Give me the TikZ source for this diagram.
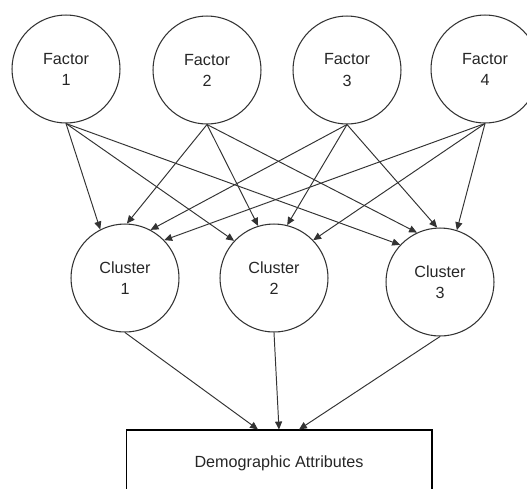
\documentclass[tikz,border=0pt]{standalone}
\usepackage{fontspec}
\setmainfont{Liberation Sans}
\usetikzlibrary{arrows.meta,positioning}

\begin{document}
\begin{tikzpicture}[x=0.02cm, y=-0.02cm,
  blob/.style={circle, draw=lineC, line width=0.6pt, minimum size=2.16cm, inner sep=0pt, align=center, font=\fontsize{9.2}{12}\selectfont, text=black!85},
  attrbox/.style={draw=black, line width=0.6pt, minimum width=6.12cm, minimum height=1.32cm, inner sep=0pt, font=\fontsize{9.2}{12}\selectfont, text=black!85},
  link/.style={-{Triangle[length=4.5pt,width=4pt]}, line width=0.55pt, draw=lineC},
]
\definecolor{lineC}{HTML}{333333}
\useasboundingbox (0,0) rectangle (527,488);
% factors
\node[blob] (F1) at (66,69) {Factor\\1};
\node[blob] (F2) at (207,70) {Factor\\2};
\node[blob] (F3) at (347,70) {Factor\\3};
\node[blob] (F4) at (485,69) {Factor\\4};
% clusters
\node[blob] (C1) at (125,278) {Cluster\\1};
\node[blob] (C2) at (274,278) {Cluster\\2};
\node[blob] (C3) at (440,282) {Cluster\\3};
% attributes
\node[attrbox] (D) at (279,463) {Demographic Attributes};
% ---- factor -> cluster ----
\draw[link] (F1.south) -- (C1.117);
\draw[link] (F2.south) -- (C1.88);
\draw[link] (F3.south) -- (C1.62);
\draw[link] (F4.south) -- (C1.44);
\draw[link] (F1.south) -- (C2.137);
\draw[link] (F2.south) -- (C2.107);
\draw[link] (F3.south) -- (C2.76);
\draw[link] (F4.south) -- (C2.44);
\draw[link] (F1.south) -- (C3.137);
\draw[link] (F2.south) -- (C3.115);
\draw[link] (F3.south) -- (C3.93);
\draw[link] (F4.south) -- (C3.72);
% ---- cluster -> attributes ----
\draw[link] (C1.south) -- ([xshift=-4.2mm]D.north);
\draw[link] (C2.south) -- (D.north);
\draw[link] (C3.south) -- ([xshift=4.0mm]D.north);
\end{tikzpicture}
\end{document}
